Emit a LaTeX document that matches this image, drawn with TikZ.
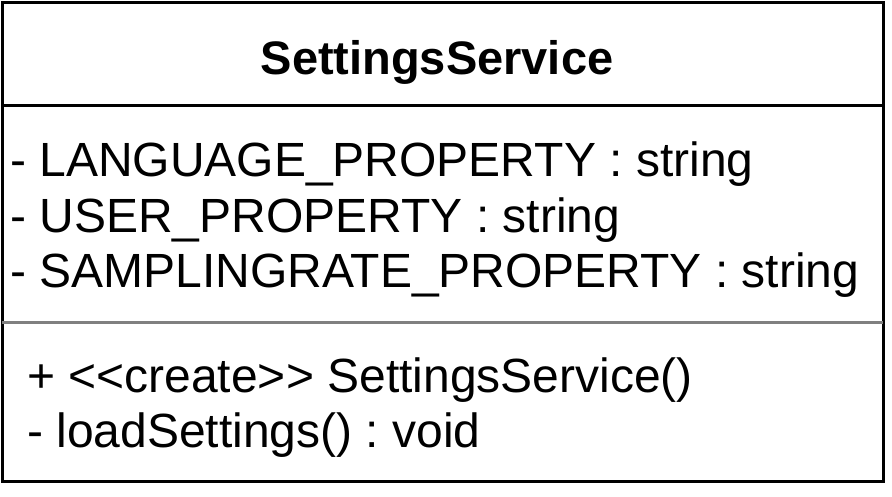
\documentclass[tikz,border=0pt]{standalone}
\usepackage{fontspec}
\setmainfont{Liberation Sans}[Ligatures=TeXOff]
\usepackage{tikz}

\tikzset{
	member/.style={anchor=base west, inner sep=0pt, font=\fontsize{48}{56}\selectfont\frenchspacing},
	classname/.style={anchor=base, inner sep=0pt, font=\bfseries\fontsize{47}{56}\selectfont},
}

\begin{document}
\begin{tikzpicture}[x=1pt,y=-1pt]

	\useasboundingbox (0,0) rectangle (892,496);

	\draw[line width=3pt] (2,2) rectangle (883,481);
	\draw[line width=3pt] (2,105) -- (883,105);
	\draw[line width=3pt, gray] (2,322.5) -- (883,322.5);

	\node[classname] (title) at (437,74) {SettingsService};

	\node[member] (langprop) at (10,176) {- LANGUAGE\_PROPERTY : string};
	\node[member] (userprop) at (10,232) {- USER\_PROPERTY : string};
	\node[member] (rateprop) at (10,287) {- SAMPLINGRATE\_PROPERTY : string};

	\node[member] (create) at (27,392) {+ <<create>> SettingsService()};
	\node[member] (loadsettings) at (27,447) {- loadSettings() : void};

\end{tikzpicture}
\end{document}
